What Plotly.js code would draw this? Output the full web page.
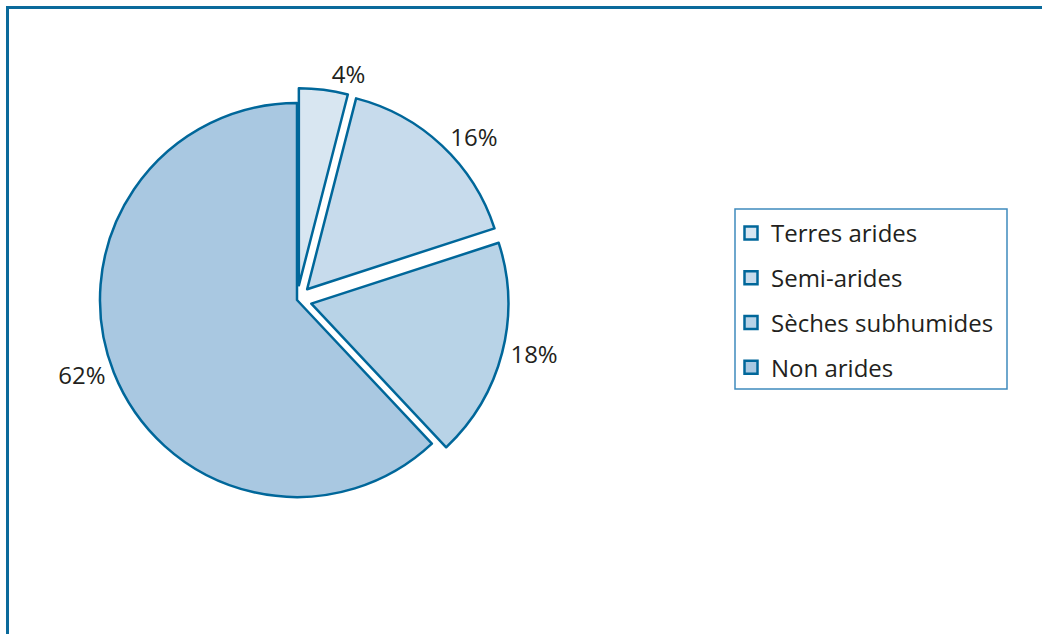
<!DOCTYPE html>
<html>
<head>
<meta charset="utf-8">
<script src="https://cdn.plot.ly/plotly-3.0.1.min.js"></script>
<style>html,body{margin:0;padding:0;background:#fff;}#chart{width:1042px;height:634px;}</style>
</head>
<body>
<div id="chart"></div>
<script>
const categories = ["Terres arides", "Semi-arides", "Sèches subhumides", "Non arides"];
const shares = [4, 16, 18, 62];
const pulls = [0.075, 0.075, 0.075, 0];
const sliceColors = ["#d8e6f1", "#c7dbec", "#b8d3e7", "#a9c8e1"];

const W = 1042, H = 634;
const px = v => v / W;
const py = v => 1 - v / H;
const edge = "#00679a";
const fontFam = "'Open Sans', 'Noto Sans', sans-serif";

const pie = {
  type: "pie",
  labels: categories,
  values: shares,
  pull: pulls,
  sort: false,
  direction: "clockwise",
  rotation: 0,
  marker: { colors: sliceColors, line: { color: edge, width: 2.5 } },
  texttemplate: "%{value}%",
  textposition: "outside",
  outsidetextfont: { family: fontFam, size: 24, color: "#231f20" },
  domain: { x: [px(85.2), px(508.8)], y: [py(511.8), py(88.2)] },
  showlegend: false,
  hoverinfo: "label+percent"
};

const legendTraces = categories.map((c, i) => ({
  type: "scatter",
  mode: "markers",
  x: [null], y: [null],
  name: c,
  legendgroup: "g" + i,
  marker: { symbol: "square", size: 13, color: sliceColors[i], line: { color: edge, width: 2.5 } },
  hoverinfo: "skip"
}));

const layout = {
  width: W, height: H,
  margin: { l: 0, r: 0, t: 0, b: 0 },
  paper_bgcolor: "#ffffff",
  plot_bgcolor: "rgba(0,0,0,0)",
  xaxis: { visible: false },
  yaxis: { visible: false },
  showlegend: true,
  legend: {
    x: px(731), y: py(211), xanchor: "left", yanchor: "top",
    traceorder: "grouped",
    tracegroupgap: 10.5,
    bgcolor: "rgba(0,0,0,0)",
    borderwidth: 0,
    font: { family: fontFam, size: 24, color: "#231f20" }
  },
  shapes: [
    { type: "line", xref: "paper", yref: "paper", x0: px(7.5), x1: px(7.5), y0: py(7.5), y1: -0.1, line: { color: "#0a6a9b", width: 3 } },
    { type: "line", xref: "paper", yref: "paper", x0: px(6), x1: 1.1, y0: py(7.5), y1: py(7.5), line: { color: "#0a6a9b", width: 3 } },
    { type: "rect", xref: "paper", yref: "paper", x0: px(735), x1: px(1007), y0: py(389), y1: py(209), line: { color: "#3f8bbd", width: 1.5 } }
  ]
};

Plotly.newPlot("chart", [pie, ...legendTraces], layout, { displayModeBar: false, staticPlot: true });
</script>
</body>
</html>
